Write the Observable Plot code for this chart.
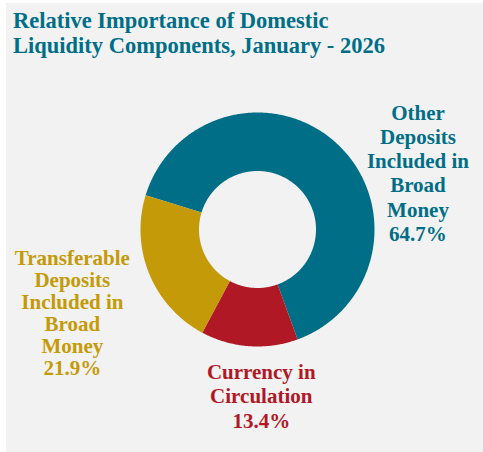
<!DOCTYPE html>
<html>
<head>
<meta charset="utf-8">
<script src="https://cdn.jsdelivr.net/npm/d3@7"></script>
<script src="https://cdn.jsdelivr.net/npm/@observablehq/plot@0.6"></script>
<style>
  html, body { margin: 0; padding: 0; background: #ffffff; }
  #panel { position: absolute; left: 6px; top: 3px; width: 477px; height: 449px; background: #f2f2f2; overflow: hidden; }
  #title { font-family: "Liberation Serif", "Times New Roman", serif; font-weight: bold; font-size: 22.5px; line-height: 25px; color: #006e87; padding: 5px 0 0 7px; height: 50px; white-space: nowrap; }
  #chart svg { display: block; }
</style>
</head>
<body>
<div id="panel">
  <div id="title">Relative Importance of Domestic<br>Liquidity Components, January - 2026</div>
  <div id="chart"></div>
</div>
<script>
// ---- data ----
const categories = [
  "Other Deposits Included in Broad Money",
  "Currency in Circulation",
  "Transferable Deposits Included in Broad Money"
];
const shares = [64.7, 13.4, 21.9];
const labelTexts = [
  "Other\nDeposits\nIncluded in\nBroad\nMoney\n64.7%",
  "Currency in\nCirculation\n13.4%",
  "Transferable\nDeposits\nIncluded in\nBroad\nMoney\n21.9%"
];
const colors = ["#006e87", "#b01826", "#c49a08"];

// ---- layout (styling) ----
const W = 477, H = 399;
const innerRatio = 0.5;
const startDeg = -73;
const labelStyle = [
  {dx: 80, dy: 28, lineHeight: 1.15},
  {dx: 12, dy: 49, lineHeight: 1.17},
  {dx: -77, dy: 39, lineHeight: 1.05}
];

// ---- geometry from the data via d3.pie ----
const rows = categories.map((name, i) => ({name, value: shares[i], label: labelTexts[i], i}));
const arcs = d3.pie().sort(null).value(d => d.value)
  .startAngle(startDeg * Math.PI / 180)
  .endAngle(startDeg * Math.PI / 180 + 2 * Math.PI)(rows);

const points = [];
for (const a of arcs) {
  const n = Math.max(4, Math.ceil((a.endAngle - a.startAngle) / (Math.PI / 360)));
  const outer = [], inner = [];
  for (let k = 0; k <= n; ++k) {
    const t = a.startAngle + (a.endAngle - a.startAngle) * k / n;
    outer.push({name: a.data.name, x: Math.sin(t), y: Math.cos(t)});
    inner.push({name: a.data.name, x: innerRatio * Math.sin(t), y: innerRatio * Math.cos(t)});
  }
  points.push(...outer, ...inner.reverse());
}
const labels = arcs.map(a => {
  const m = (a.startAngle + a.endAngle) / 2;
  return {name: a.data.name, label: a.data.label, i: a.data.i, x: Math.sin(m), y: Math.cos(m)};
});

const textMarks = labels.map(l => Plot.text([l], {
  x: "x", y: "y", text: "label", fill: "name",
  dx: labelStyle[l.i].dx, dy: labelStyle[l.i].dy,
  lineHeight: labelStyle[l.i].lineHeight,
  lineAnchor: "middle", textAnchor: "middle",
  fontSize: 21, fontWeight: "bold",
  fontFamily: "Liberation Serif, Times New Roman, serif"
}));

const chart = Plot.plot({
  width: W,
  height: H,
  margin: 0,
  style: {background: "transparent", overflow: "visible"},
  x: {domain: [-1, 1], range: [134, 368], axis: null},
  y: {domain: [-1, 1], range: [288, 54], axis: null},
  color: {domain: categories, range: colors},
  marks: [
    Plot.line(points, {x: "x", y: "y", z: "name", fill: "name", stroke: "none", curve: "linear-closed"}),
    ...textMarks
  ]
});
document.getElementById("chart").appendChild(chart);
</script>
</body>
</html>
